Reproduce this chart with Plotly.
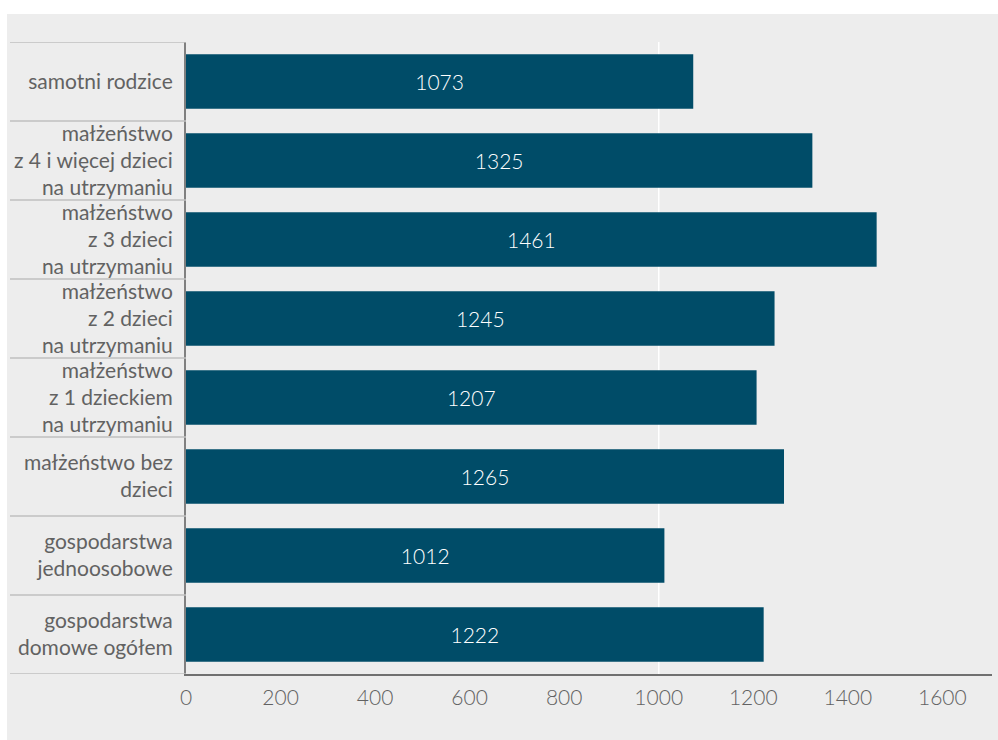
import plotly.graph_objects as go

categories = [
    "samotni rodzice",
    "małżeństwo<br>z 4 i więcej dzieci<br>na utrzymaniu",
    "małżeństwo<br>z 3 dzieci<br>na utrzymaniu",
    "małżeństwo<br>z 2 dzieci<br>na utrzymaniu",
    "małżeństwo<br>z 1 dzieckiem<br>na utrzymaniu",
    "małżeństwo bez<br>dzieci",
    "gospodarstwa<br>jednoosobowe",
    "gospodarstwa<br>domowe ogółem",
]
values = [1073, 1325, 1461, 1245, 1207, 1265, 1012, 1222]
x_ticks = [0, 200, 400, 600, 800, 1000, 1200, 1400, 1600]
grid_values = [1000]

W, H = 998, 740
L, R, T, B = 186, 6, 42, 66
pw, ph = W - L - R, H - T - B

def px_x(px):
    return (px - L) / pw

def px_y(py):
    return 1 - (py - T) / ph

BAR = "#004c68"
GRAY_TXT = "#626262"
PANEL = "#ededed"

fig = go.Figure()
fig.add_trace(go.Bar(
    x=values, y=list(range(len(categories))), orientation="h",
    marker=dict(color=BAR, line=dict(width=0)),
    width=0.69,
    text=[str(v) for v in values],
    textposition="inside", insidetextanchor="middle",
    textangle=0, constraintext="none",
    textfont=dict(family="Lato", size=21, color="#ffffff", weight=300),
    hoverinfo="skip",
))

shapes = []
# panel background
shapes.append(dict(type="rect", xref="paper", yref="paper",
                   x0=px_x(7), x1=px_x(999), y0=px_y(14), y1=px_y(741),
                   fillcolor=PANEL, line=dict(width=0), layer="below"))
# gridline
for g in grid_values:
    shapes.append(dict(type="line", xref="x", yref="paper", x0=g, x1=g, y0=0, y1=1,
                       line=dict(color="#ffffff", width=1.5), layer="below"))
# category separators on the left
for i in range(len(categories) + 1):
    shapes.append(dict(type="line", xref="paper", yref="y",
                       x0=px_x(10), x1=0, y0=i - 0.5, y1=i - 0.5,
                       line=dict(color="#bfbfbf", width=1.5), layer="above"))

fig.update_layout(
    width=W, height=H,
    margin=dict(l=L, r=R, t=T, b=B, pad=0),
    paper_bgcolor="#ffffff", plot_bgcolor=PANEL,
    showlegend=False,
    shapes=shapes,
    bargap=0.31,
    xaxis=dict(range=[0, 1705], tickvals=x_ticks, ticktext=[str(t) for t in x_ticks],
               showgrid=False, zeroline=False,
               showline=True, linecolor="#707070", linewidth=2,
               ticks="", tickfont=dict(family="Lato", size=21, color=GRAY_TXT, weight=300),
               ticklabelstandoff=4, fixedrange=True),
    yaxis=dict(range=[len(categories) - 0.5, -0.5],
               tickvals=list(range(len(categories))), ticktext=categories,
               showgrid=False, zeroline=False,
               showline=True, linecolor="#808080", linewidth=2,
               ticks="", tickfont=dict(family="Lato", size=21, color=GRAY_TXT),
               ticklabelstandoff=7, fixedrange=True),
)

fig.write_html(
    "out.html",
    config={"displayModeBar": False},
    post_script="document.body.style.margin='0';document.body.style.overflow='hidden';",
)
